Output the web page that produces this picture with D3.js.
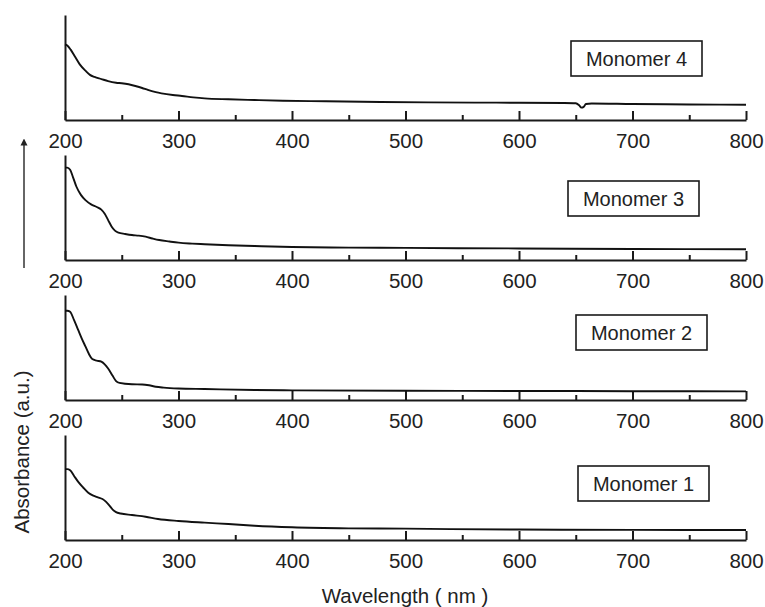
<!DOCTYPE html>
<html>
<head>
<meta charset="utf-8">
<script src="https://cdn.jsdelivr.net/npm/d3@7/dist/d3.min.js"></script>
<style>
  html, body { margin: 0; padding: 0; background: #fff; }
  svg { display: block; font-family: "Liberation Sans", Arial, sans-serif; }
  .axis path, .axis line { stroke: #1a1a1a; stroke-width: 2; }
  .axis text { font-size: 20.5px; fill: #222; }
  .curve { fill: none; stroke: #111; stroke-width: 1.9; }
  .legend rect { fill: #fff; stroke: #1a1a1a; stroke-width: 1.6; }
  .legend text { font-size: 20px; fill: #222; }
</style>
</head>
<body>
<svg id="chart" width="765" height="607"></svg>
<script>
// wavelength (nm), absorbance (a.u., 0..1 of panel height)
const monomer4 = [
  [200, 0.72], [202, 0.71], [205, 0.67], [209, 0.60], [213, 0.53], [218, 0.47],
  [222, 0.43], [226, 0.41], [232, 0.39], [238, 0.37], [245, 0.355], [250, 0.35],
  [256, 0.34], [262, 0.324], [268, 0.305], [273, 0.286], [280, 0.265], [285, 0.254],
  [295, 0.238], [303, 0.229], [313, 0.216], [323, 0.206], [344, 0.197], [367, 0.19],
  [392, 0.184], [430, 0.178], [478, 0.172], [520, 0.168], [580, 0.165], [640, 0.162],
  [650, 0.16], [653, 0.14], [655, 0.118], [657, 0.125], [659, 0.152], [664, 0.157],
  [700, 0.152], [750, 0.148], [800, 0.145]
];
const monomer3 = [
  [200, 0.88], [202, 0.88], [204.5, 0.86], [207, 0.79], [210, 0.70], [214, 0.62],
  [218, 0.57], [223, 0.53], [228, 0.505], [232, 0.48], [235, 0.44], [238, 0.38],
  [241, 0.32], [244, 0.28], [247, 0.26], [253, 0.248], [259, 0.238], [265, 0.232],
  [271, 0.222], [277, 0.205], [283, 0.19], [292, 0.176], [300, 0.165], [312, 0.156],
  [323, 0.15], [344, 0.14], [367, 0.133], [400, 0.124], [450, 0.118], [500, 0.115],
  [600, 0.11], [700, 0.105], [800, 0.102]
];
const monomer2 = [
  [200, 0.85], [202, 0.85], [204.5, 0.84], [208, 0.76], [211.5, 0.67], [215, 0.58],
  [218, 0.51], [221, 0.44], [224, 0.39], [228, 0.375], [232, 0.365], [235, 0.34],
  [238, 0.30], [242, 0.23], [245, 0.18], [248, 0.163], [259, 0.15], [268, 0.148],
  [274, 0.14], [280, 0.126], [287, 0.118], [300, 0.11], [323, 0.105], [367, 0.095],
  [400, 0.092], [500, 0.088], [600, 0.086], [700, 0.084], [800, 0.082]
];
const monomer1 = [
  [200, 0.675], [202, 0.675], [204.5, 0.665], [208, 0.61], [211.5, 0.556], [216, 0.50],
  [220.5, 0.45], [225, 0.422], [229, 0.406], [233, 0.39], [236, 0.365], [239, 0.33],
  [242, 0.29], [245, 0.265], [249, 0.252], [259, 0.238], [271, 0.222], [282, 0.2],
  [300, 0.181], [323, 0.165], [344, 0.152], [367, 0.136], [400, 0.121], [450, 0.111],
  [500, 0.108], [540, 0.104], [600, 0.1], [700, 0.096], [800, 0.095]
];

const seriesNames = ['Monomer 4', 'Monomer 3', 'Monomer 2', 'Monomer 1'];
const seriesData = [monomer4, monomer3, monomer2, monomer1];

const majorTicks = [200, 300, 400, 500, 600, 700, 800];
const minorTicks = [250, 350, 450, 550, 650, 750];

// layout
const panelTop = 15;
const panelHeight = 105;
const panelStep = 140;
const legendBoxes = [
  {x: 571, y: 41}, {x: 568, y: 181}, {x: 576, y: 315}, {x: 578, y: 466}
];
const boxW = 131;
const boxH = 35;

const svg = d3.select('#chart');

const x = d3.scaleLinear().domain([200, 800]).range([65, 746]);

const line = d3.line()
  .curve(d3.curveMonotoneX);

seriesData.forEach((data, i) => {
  const top = panelTop + i * panelStep;
  const base = top + panelHeight;
  const y = d3.scaleLinear().domain([0, 1]).range([base, top]);

  const g = svg.append('g').attr('class', 'panel');

  // minor ticks
  g.append('g')
    .attr('class', 'axis')
    .attr('transform', `translate(0,${base})`)
    .call(d3.axisBottom(x).tickValues(minorTicks).tickSize(-5).tickSizeOuter(0).tickFormat(''))
    .select('.domain').remove();

  g.append('g')
    .attr('class', 'axis')
    .attr('transform', `translate(0,${base})`)
    .call(d3.axisBottom(x).tickValues(majorTicks).tickSize(-9).tickSizeOuter(0).tickPadding(13));

  g.append('g')
    .attr('class', 'axis')
    .attr('transform', `translate(${x(200)},0)`)
    .call(d3.axisLeft(y).tickValues([]).tickSizeOuter(0));

  g.append('path')
    .attr('class', 'curve')
    .attr('d', line(data.map(d => [x(d[0]), y(d[1])])));

  const box = svg.append('g')
    .attr('class', 'legend')
    .attr('transform', `translate(${legendBoxes[i].x},${legendBoxes[i].y})`);
  box.append('rect').attr('width', boxW).attr('height', boxH);
  box.append('text')
    .attr('x', boxW / 2)
    .attr('y', boxH / 2 + 7)
    .attr('text-anchor', 'middle')
    .text(seriesNames[i]);
});

// arrow next to y label
svg.append('defs').append('marker')
  .attr('id', 'head')
  .attr('viewBox', '0 0 10 10')
  .attr('refX', 5).attr('refY', 5)
  .attr('markerWidth', 7).attr('markerHeight', 9)
  .attr('markerUnits', 'userSpaceOnUse')
  .attr('orient', 'auto')
  .append('path').attr('d', 'M0,0 L10,5 L0,10 Z').attr('fill', '#222');

svg.append('line')
  .attr('x1', 24).attr('x2', 24)
  .attr('y1', 268).attr('y2', 142)
  .attr('stroke', '#333').attr('stroke-width', 1.5)
  .attr('marker-end', 'url(#head)');

svg.append('text')
  .attr('transform', 'translate(29,452) rotate(-90)')
  .attr('text-anchor', 'middle')
  .style('font-size', '20.5px')
  .attr('fill', '#222')
  .text('Absorbance (a.u.)');

svg.append('text')
  .attr('x', 405)
  .attr('y', 603)
  .attr('text-anchor', 'middle')
  .style('font-size', '20.5px')
  .attr('fill', '#222')
  .text('Wavelength ( nm )');
</script>
</body>
</html>
